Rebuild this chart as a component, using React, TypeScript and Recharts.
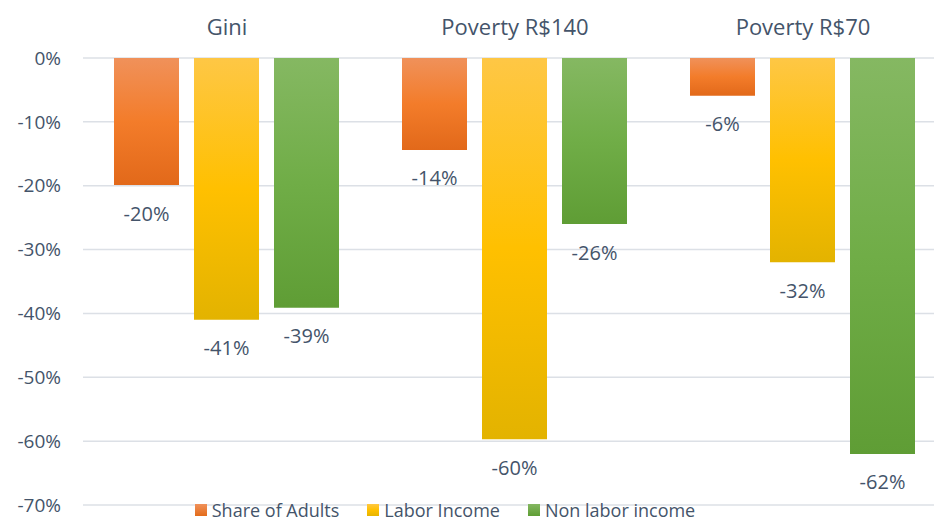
import { Bar, BarChart, CartesianGrid, XAxis, YAxis, LabelList } from "recharts";

const categories = ["Gini", "Poverty R$140", "Poverty R$70"];
const shareOfAdults = [-0.199, -0.144, -0.059];
const laborIncome = [-0.41, -0.597, -0.32];
const nonLaborIncome = [-0.391, -0.26, -0.62];
const yTicks = [0, -0.1, -0.2, -0.3, -0.4, -0.5, -0.6, -0.7];

const data = categories.map((name, i) => ({
  name,
  share: shareOfAdults[i],
  labor: laborIncome[i],
  nonLabor: nonLaborIncome[i],
}));

const TEXT = "#44546A";
const FONT = "'Open Sans', sans-serif";

const pct = (v: number) => `${Math.round(v * 100)}%`;

const BarLabel = (props: any) => {
  const { x, y, width, height, value } = props;
  const bottom = Math.max(y, y + height);
  return (
    <text
      x={x + width / 2}
      y={bottom + 28}
      textAnchor="middle"
      dominantBaseline="central"
      fill={TEXT}
      fontSize={20}
      fontFamily={FONT}
    >
      {pct(value)}
    </text>
  );
};

const CatTick = (props: any) => {
  const { x, payload } = props;
  return (
    <text x={x} y={26} textAnchor="middle" dominantBaseline="central" fill={TEXT} fontSize={22} fontFamily={FONT}>
      {payload.value}
    </text>
  );
};

const legendItems = [
  { label: "Share of Adults", grad: "linear-gradient(#F0915A, #E36C1A)" },
  { label: "Labor Income", grad: "linear-gradient(#FFC843, #FFC000, #E6B400)" },
  { label: "Non labor income", grad: "linear-gradient(#84B761, #5F9E35)" },
];

const App = () => {
  return (
    <div style={{ position: "absolute", left: 0, top: 0, width: 934, height: 521, overflow: "hidden", background: "#fff" }}>
      <BarChart
        width={947}
        height={521}
        data={data}
        margin={{ top: 0, right: 0, bottom: 16, left: 0 }}
        barCategoryGap={31}
        barGap={15}
      >
        <defs>
          <linearGradient id="gOrange" x1="0" y1="0" x2="0" y2="1">
            <stop offset="0%" stopColor="#F0915A" />
            <stop offset="50%" stopColor="#F37C2A" />
            <stop offset="100%" stopColor="#E2691A" />
          </linearGradient>
          <linearGradient id="gYellow" x1="0" y1="0" x2="0" y2="1">
            <stop offset="0%" stopColor="#FEC745" />
            <stop offset="50%" stopColor="#FFC000" />
            <stop offset="100%" stopColor="#E3B300" />
          </linearGradient>
          <linearGradient id="gGreen" x1="0" y1="0" x2="0" y2="1">
            <stop offset="0%" stopColor="#85B862" />
            <stop offset="50%" stopColor="#70AD47" />
            <stop offset="100%" stopColor="#5F9D35" />
          </linearGradient>
        </defs>
        <CartesianGrid vertical={false} stroke="#DCE0E6" strokeWidth={1.5} />
        <XAxis
          dataKey="name"
          orientation="top"
          height={58}
          axisLine={false}
          tickLine={false}
          tick={<CatTick />}
        />
        <YAxis
          width={83}
          domain={[-0.7, 0]}
          ticks={yTicks}
          tickFormatter={pct}
          axisLine={false}
          tickLine={false}
          tickSize={0}
          tickMargin={22}
          tick={{ fill: TEXT, fontSize: 19, fontFamily: FONT }}
        />
        <Bar dataKey="share" fill="url(#gOrange)" isAnimationActive={false}>
          <LabelList dataKey="share" content={<BarLabel />} />
        </Bar>
        <Bar dataKey="labor" fill="url(#gYellow)" isAnimationActive={false}>
          <LabelList dataKey="labor" content={<BarLabel />} />
        </Bar>
        <Bar dataKey="nonLabor" fill="url(#gGreen)" isAnimationActive={false}>
          <LabelList dataKey="nonLabor" content={<BarLabel />} />
        </Bar>
      </BarChart>
      <div
        style={{
          position: "absolute",
          left: 0,
          width: 890,
          top: 500,
          display: "flex",
          justifyContent: "center",
          gap: 28,
          fontFamily: FONT,
          fontSize: 18,
          color: TEXT,
          lineHeight: "20px",
        }}
      >
        {legendItems.map((it) => (
          <div key={it.label} style={{ display: "flex", alignItems: "center" }}>
            <span style={{ display: "inline-block", width: 12, height: 12, background: it.grad, marginRight: 5 }} />
            <span>{it.label}</span>
          </div>
        ))}
      </div>
    </div>
  );
};

export default App;
